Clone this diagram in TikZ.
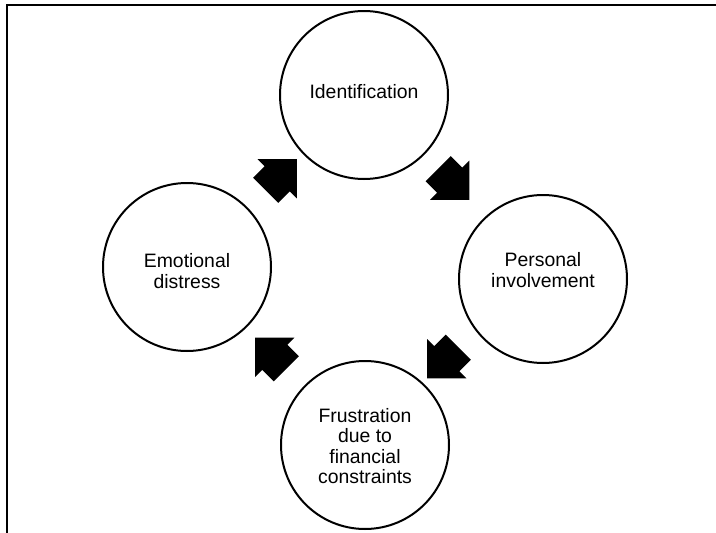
\documentclass[tikz,border=0pt]{standalone}
\usepackage{fontspec}
\setmainfont{Liberation Sans}
\usetikzlibrary{shapes.arrows}
\begin{document}
\begin{tikzpicture}[x=1pt,y=-1pt,
  stage/.style={circle,draw=black,line width=2pt,minimum size=168pt,inner sep=0pt},
  stagetext/.style={align=center,inner sep=0pt,font=\fontsize{19.4pt}{20.5pt}\selectfont},
  blockarrow/.style={single arrow,fill=black,draw=none,minimum height=44pt,minimum width=55pt,
    single arrow head extend=10pt,single arrow tip angle=90,inner xsep=0pt,inner ysep=17.5pt,outer sep=0pt},
  frame/.style={line width=2.2pt}]
\useasboundingbox (0,0) rectangle (716,533);
\coordinate (fb) at (7,533);
\coordinate (fc) at (7,5);
\coordinate (fr) at (716,5);
\draw[frame] (fb) -- (fc) -- (fr);
\node[stage] (ident) at (364,95) {};
\node[stagetext] (identt) at (364,92) {Identification};
\node[stage] (pers) at (543,279) {};
\node[stagetext] (perst) at (543,270) {Personal\\involvement};
\node[stage] (frus) at (365,445) {};
\node[stagetext] (frust) at (365,446) {Frustration\\due to\\financial\\constraints};
\node[stage] (emo) at (187,267) {};
\node[stagetext] (emot) at (187,271) {Emotional\\distress};
\node[blockarrow,rotate=45] (a1) at (275,181) {};
\node[blockarrow,rotate=-45] (a2) at (447.5,178) {};
\node[blockarrow,rotate=-135] (a3) at (449,356.5) {};
\node[blockarrow,rotate=135] (a4) at (277,359.5) {};
\end{tikzpicture}
\end{document}
